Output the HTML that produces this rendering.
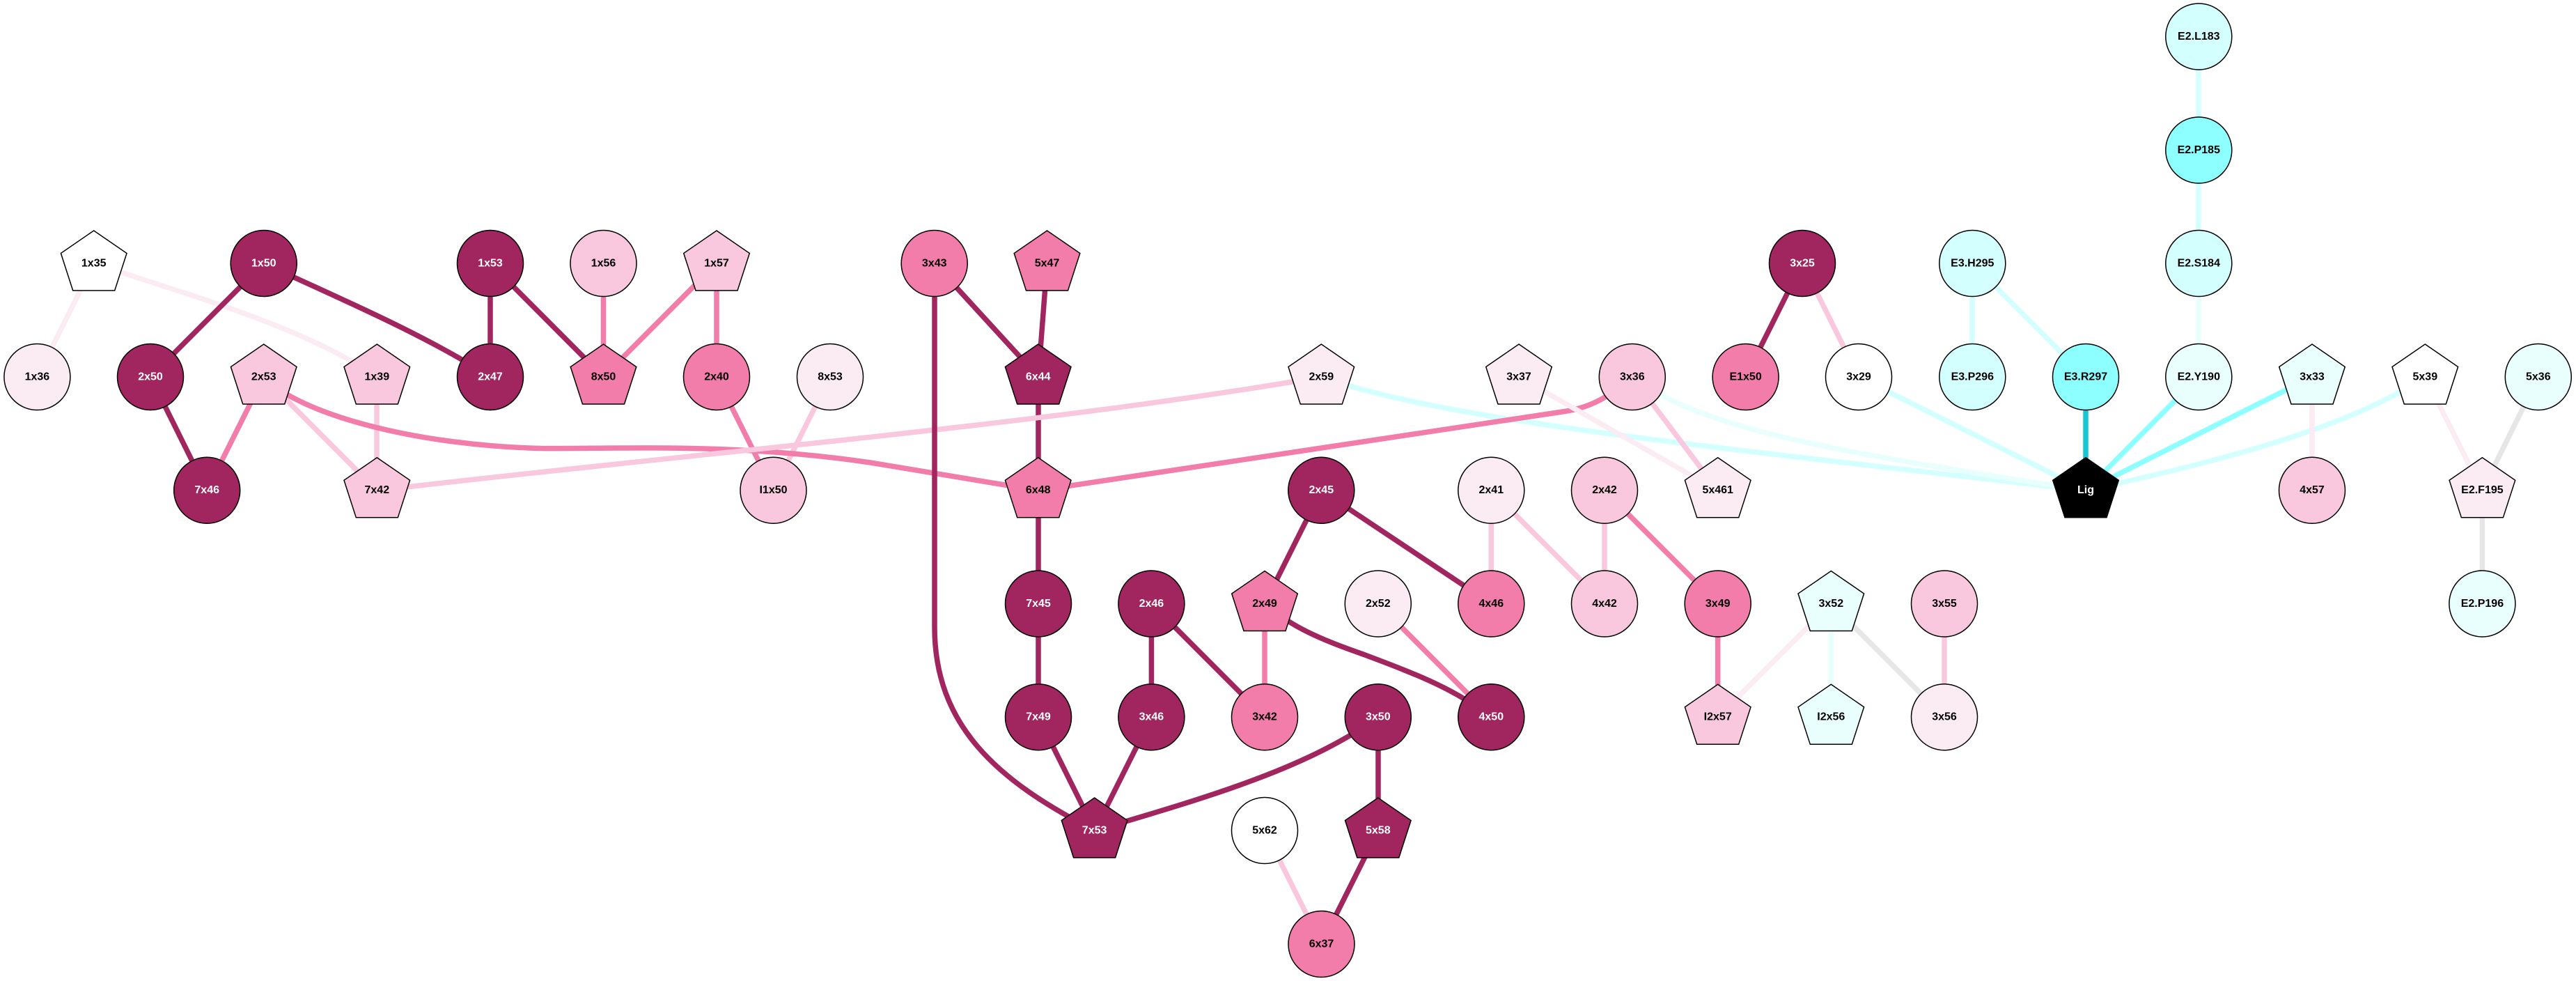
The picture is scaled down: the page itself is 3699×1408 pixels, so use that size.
<!DOCTYPE html>
<html>
<head>
<meta charset="utf-8">
<title>Network diagram</title>
<style>
html,body{margin:0;padding:0;background:#fff;width:3699px;height:1408px;overflow:hidden}
svg{display:block}
.e path{fill:none;stroke-width:7.5}
.d{stroke:#a1255e}.p{stroke:#f27caa}.l{stroke:#f9c8de}.v{stroke:#fbecf4}
.c1{stroke:#d4ffff}.c2{stroke:#e9fffe}.c3{stroke:#8effff}.c4{stroke:#17c6d2}.g{stroke:#e6e6e6}
.n circle,.n polygon{stroke:#000;stroke-width:1.5}
.n text{font-family:"Liberation Sans",Arial,sans-serif;font-weight:700;font-size:16px;text-anchor:middle;fill:#000;transform:translateY(-0.6px)}
.n .D text,.n .K text{fill:#fff}
.D circle,.D polygon{fill:#a1255e}
.P circle,.P polygon{fill:#f27caa}
.L circle,.L polygon{fill:#f9c8de}
.V circle,.V polygon{fill:#fbecf4}
.W circle,.W polygon{fill:#fff}
.C circle,.C polygon{fill:#d4ffff}
.T circle,.T polygon{fill:#8effff}
.Y circle,.Y polygon{fill:#e9fffe}
.K polygon{fill:#000}
</style>
</head>
<body>
<svg xmlns="http://www.w3.org/2000/svg" width="3699" height="1408" viewBox="0 0 3699 1408">
<rect width="3699" height="1408" fill="#fff"/>
<g class="e">
<path class="c1" d="M1897 541C2080 605 2450 640 2995 704"/>
<path class="c2" d="M2344 541C2450 620 2650 650 2995 704"/>
<path class="c1" d="M2669 541L2995 704"/>
<path class="c1" d="M2995 704C3200 660 3380 610 3482 541"/>
<path class="c1" d="M2832 378V541"/>
<path class="c1" d="M2832 378L2995 541"/>
<path class="c1" d="M3157 52.500V378"/>
<path class="c2" d="M3157 378V541"/>
<path class="c3" d="M3157 541L2995 704"/>
<path class="c3" d="M3320 541L2995 704"/>
<path class="c4" d="M2995 541V704"/>
<path class="v" d="M134.700 378L53.400 541"/>
<path class="v" d="M134.700 378C260 420 440 470 541 541"/>
<path class="d" d="M378.700 378L216 541"/>
<path class="d" d="M378.700 378C480 425 610 480 704 541"/>
<path class="d" d="M704 378V541"/>
<path class="d" d="M704 378L866.500 541"/>
<path class="p" d="M866.500 378V541"/>
<path class="p" d="M1029 378L866.500 541"/>
<path class="p" d="M1029 378V541"/>
<path class="d" d="M216 541L297 704"/>
<path class="p" d="M378.700 541L297 704"/>
<path class="l" d="M378.700 541L541 704"/>
<path class="l" d="M541 541V704"/>
<path class="p" d="M1029 541L1110.500 704"/>
<path class="l" d="M1192 541L1110.500 704"/>
<path class="p" d="M379 541C430 595 600 640 781 643.600C900 644 1060 636 1250 664L1491 704"/>
<path class="d" d="M1341.700 378L1491 541"/>
<path class="d" d="M1503.500 378L1491 541"/>
<path class="d" d="M1491 541V866.500"/>
<path class="d" d="M1491 866.500V1029.300"/>
<path class="l" d="M541 704C1000 650 1500 610 1897 541"/>
<path class="d" d="M1342 378V900C1342 1040 1430 1120 1572 1192"/>
<path class="p" d="M1491 704L2250 590C2285 584 2310 570 2344 541"/>
<path class="v" d="M2181 541L2466.700 704"/>
<path class="l" d="M2344 541L2466.700 704"/>
<path class="d" d="M1491 1029.300L1572 1192"/>
<path class="d" d="M1653.400 1029.300L1572 1192"/>
<path class="d" d="M1653.400 866.500V1029.300"/>
<path class="d" d="M1653.400 866.500L1816 1029.300"/>
<path class="p" d="M1816 866.500V1029.300"/>
<path class="d" d="M1897.300 704L1816 866.500"/>
<path class="d" d="M1897.300 704L2141.300 866.500"/>
<path class="p" d="M1979 866.500L2141.300 1029.300"/>
<path class="d" d="M1816 866.500C1860 905 1910 922 1960 940C2040 970 2090 990 2141.300 1029.300"/>
<path class="d" d="M1979 1029.300C1880 1100 1750 1140 1572 1192"/>
<path class="d" d="M1979 1029.300V1192"/>
<path class="d" d="M1979 1192L1897.500 1355"/>
<path class="l" d="M1816 1192L1897.500 1355"/>
<path class="l" d="M2141.300 704V866.500"/>
<path class="l" d="M2141.300 704L2304 866.500"/>
<path class="l" d="M2304 704V866.500"/>
<path class="p" d="M2304 704L2466.700 866.500"/>
<path class="p" d="M2466.700 866.500V1029.300"/>
<path class="v" d="M2629.300 866.500L2466.700 1029.300"/>
<path class="c2" d="M2629.300 866.500V1029.300"/>
<path class="g" d="M2629.300 866.500L2792 1029.300"/>
<path class="l" d="M2792 866.500V1029.300"/>
<path class="d" d="M2588 378L2506.600 541"/>
<path class="l" d="M2588 378L2669 541"/>
<path class="v" d="M3320 541V704"/>
<path class="v" d="M3482.300 541L3564.400 704"/>
<path class="g" d="M3644.800 541L3564.400 704"/>
<path class="g" d="M3564.400 704V866.500"/>
</g>
<g class="n">
<g class="W"><polygon transform="translate(134.700,378)" points="0,-47 47.300,-14.500 30,39 -30,39 -47.300,-14.500"/><text x="134.700" y="383">1x35</text></g>
<g class="D"><circle cx="378.700" cy="378" r="47.500"/><text x="378.700" y="383">1x50</text></g>
<g class="D"><circle cx="704" cy="378" r="47.500"/><text x="704" y="383">1x53</text></g>
<g class="L"><circle cx="866.500" cy="378" r="47.500"/><text x="866.500" y="383">1x56</text></g>
<g class="L"><polygon transform="translate(1029,378)" points="0,-47 47.300,-14.500 30,39 -30,39 -47.300,-14.500"/><text x="1029" y="383">1x57</text></g>
<g class="P"><circle cx="1341.700" cy="378" r="47.500"/><text x="1341.700" y="383">3x43</text></g>
<g class="P"><polygon transform="translate(1503.500,378)" points="0,-47 47.300,-14.500 30,39 -30,39 -47.300,-14.500"/><text x="1503.500" y="383">5x47</text></g>
<g class="D"><circle cx="2588" cy="378" r="47.500"/><text x="2588" y="383">3x25</text></g>
<g class="C"><circle cx="2832.300" cy="378" r="47.500"/><text x="2832.300" y="383">E3.H295</text></g>
<g class="C"><circle cx="3157.300" cy="52.500" r="47.500"/><text x="3157.300" y="57.500">E2.L183</text></g>
<g class="T"><circle cx="3157.300" cy="215.500" r="47.500"/><text x="3157.300" y="220.500">E2.P185</text></g>
<g class="C"><circle cx="3157.300" cy="378" r="47.500"/><text x="3157.300" y="383">E2.S184</text></g>

<g class="V"><circle cx="53.400" cy="541" r="47.500"/><text x="53.400" y="546">1x36</text></g>
<g class="D"><circle cx="216" cy="541" r="47.500"/><text x="216" y="546">2x50</text></g>
<g class="L"><polygon transform="translate(378.700,541)" points="0,-47 47.300,-14.500 30,39 -30,39 -47.300,-14.500"/><text x="378.700" y="546">2x53</text></g>
<g class="L"><polygon transform="translate(541.300,541)" points="0,-47 47.300,-14.500 30,39 -30,39 -47.300,-14.500"/><text x="541.300" y="546">1x39</text></g>
<g class="D"><circle cx="704" cy="541" r="47.500"/><text x="704" y="546">2x47</text></g>
<g class="P"><polygon transform="translate(866.500,541)" points="0,-47 47.300,-14.500 30,39 -30,39 -47.300,-14.500"/><text x="866.500" y="546">8x50</text></g>
<g class="P"><circle cx="1029" cy="541" r="47.500"/><text x="1029" y="546">2x40</text></g>
<g class="V"><circle cx="1192" cy="541" r="47.500"/><text x="1192" y="546">8x53</text></g>
<g class="D"><polygon transform="translate(1490.700,541)" points="0,-47 47.300,-14.500 30,39 -30,39 -47.300,-14.500"/><text x="1490.700" y="546">6x44</text></g>
<g class="V"><polygon transform="translate(1897.300,541)" points="0,-47 47.300,-14.500 30,39 -30,39 -47.300,-14.500"/><text x="1897.300" y="546">2x59</text></g>
<g class="V"><polygon transform="translate(2181,541)" points="0,-47 47.300,-14.500 30,39 -30,39 -47.300,-14.500"/><text x="2181" y="546">3x37</text></g>
<g class="L"><circle cx="2343.800" cy="541" r="47.500"/><text x="2343.800" y="546">3x36</text></g>
<g class="P"><circle cx="2506.600" cy="541" r="47.500"/><text x="2506.600" y="546">E1x50</text></g>
<g class="W"><circle cx="2669" cy="541" r="47.500"/><text x="2669" y="546">3x29</text></g>
<g class="C"><circle cx="2832.300" cy="541" r="47.500"/><text x="2832.300" y="546">E3.P296</text></g>
<g class="T"><circle cx="2995" cy="541" r="47.500"/><text x="2995" y="546">E3.R297</text></g>
<g class="Y"><circle cx="3157.300" cy="541" r="47.500"/><text x="3157.300" y="546">E2.Y190</text></g>
<g class="Y"><polygon transform="translate(3320,541)" points="0,-47 47.300,-14.500 30,39 -30,39 -47.300,-14.500"/><text x="3320" y="546">3x33</text></g>
<g class="W"><polygon transform="translate(3482.300,541)" points="0,-47 47.300,-14.500 30,39 -30,39 -47.300,-14.500"/><text x="3482.300" y="546">5x39</text></g>
<g class="Y"><circle cx="3644.800" cy="541" r="47.500"/><text x="3644.800" y="546">5x36</text></g>

<g class="D"><circle cx="297.200" cy="703.800" r="47.500"/><text x="297.200" y="708.800">7x46</text></g>
<g class="L"><polygon transform="translate(541.300,703.800)" points="0,-47 47.300,-14.500 30,39 -30,39 -47.300,-14.500"/><text x="541.300" y="708.800">7x42</text></g>
<g class="L"><circle cx="1110.500" cy="703.800" r="47.500"/><text x="1110.500" y="708.800">I1x50</text></g>
<g class="P"><polygon transform="translate(1490.700,703.800)" points="0,-47 47.300,-14.500 30,39 -30,39 -47.300,-14.500"/><text x="1490.700" y="708.800">6x48</text></g>
<g class="D"><circle cx="1897.300" cy="703.800" r="47.500"/><text x="1897.300" y="708.800">2x45</text></g>
<g class="V"><circle cx="2141.300" cy="703.800" r="47.500"/><text x="2141.300" y="708.800">2x41</text></g>
<g class="L"><circle cx="2304" cy="703.800" r="47.500"/><text x="2304" y="708.800">2x42</text></g>
<g class="V"><polygon transform="translate(2466.700,703.800)" points="0,-47 47.300,-14.500 30,39 -30,39 -47.300,-14.500"/><text x="2466.700" y="708.800">5x461</text></g>
<g class="K"><polygon transform="translate(2995,703.800)" points="0,-47 47.300,-14.500 30,39 -30,39 -47.300,-14.500"/><text x="2995" y="708.800">Lig</text></g>
<g class="L"><circle cx="3320" cy="703.800" r="47.500"/><text x="3320" y="708.800">4x57</text></g>
<g class="V"><polygon transform="translate(3564.400,703.800)" points="0,-47 47.300,-14.500 30,39 -30,39 -47.300,-14.500"/><text x="3564.400" y="708.800">E2.F195</text></g>

<g class="D"><circle cx="1491" cy="866.500" r="47.500"/><text x="1491" y="871.500">7x45</text></g>
<g class="D"><circle cx="1653.400" cy="866.500" r="47.500"/><text x="1653.400" y="871.500">2x46</text></g>
<g class="P"><polygon transform="translate(1816,866.500)" points="0,-47 47.300,-14.500 30,39 -30,39 -47.300,-14.500"/><text x="1816" y="871.500">2x49</text></g>
<g class="V"><circle cx="1978.800" cy="866.500" r="47.500"/><text x="1978.800" y="871.500">2x52</text></g>
<g class="P"><circle cx="2141.300" cy="866.500" r="47.500"/><text x="2141.300" y="871.500">4x46</text></g>
<g class="L"><circle cx="2304" cy="866.500" r="47.500"/><text x="2304" y="871.500">4x42</text></g>
<g class="P"><circle cx="2466.700" cy="866.500" r="47.500"/><text x="2466.700" y="871.500">3x49</text></g>
<g class="Y"><polygon transform="translate(2629.300,866.500)" points="0,-47 47.300,-14.500 30,39 -30,39 -47.300,-14.500"/><text x="2629.300" y="871.500">3x52</text></g>
<g class="L"><circle cx="2792" cy="866.500" r="47.500"/><text x="2792" y="871.500">3x55</text></g>
<g class="Y"><circle cx="3564.400" cy="866.500" r="47.500"/><text x="3564.400" y="871.500">E2.P196</text></g>

<g class="D"><circle cx="1491" cy="1029.300" r="47.500"/><text x="1491" y="1034.300">7x49</text></g>
<g class="D"><circle cx="1653.400" cy="1029.300" r="47.500"/><text x="1653.400" y="1034.300">3x46</text></g>
<g class="P"><circle cx="1816" cy="1029.300" r="47.500"/><text x="1816" y="1034.300">3x42</text></g>
<g class="D"><circle cx="1978.800" cy="1029.300" r="47.500"/><text x="1978.800" y="1034.300">3x50</text></g>
<g class="D"><circle cx="2141.300" cy="1029.300" r="47.500"/><text x="2141.300" y="1034.300">4x50</text></g>
<g class="L"><polygon transform="translate(2466.700,1029.300)" points="0,-47 47.300,-14.500 30,39 -30,39 -47.300,-14.500"/><text x="2466.700" y="1034.300">I2x57</text></g>
<g class="Y"><polygon transform="translate(2629.300,1029.300)" points="0,-47 47.300,-14.500 30,39 -30,39 -47.300,-14.500"/><text x="2629.300" y="1034.300">I2x56</text></g>
<g class="V"><circle cx="2792" cy="1029.300" r="47.500"/><text x="2792" y="1034.300">3x56</text></g>

<g class="D"><polygon transform="translate(1571.600,1192)" points="0,-47 47.300,-14.500 30,39 -30,39 -47.300,-14.500"/><text x="1571.600" y="1197">7x53</text></g>
<g class="W"><circle cx="1816" cy="1192" r="47.500"/><text x="1816" y="1197">5x62</text></g>
<g class="D"><polygon transform="translate(1978.800,1192)" points="0,-47 47.300,-14.500 30,39 -30,39 -47.300,-14.500"/><text x="1978.800" y="1197">5x58</text></g>
<g class="P"><circle cx="1897.500" cy="1355" r="47.500"/><text x="1897.500" y="1360">6x37</text></g>
</g>
</svg>
</body>
</html>
